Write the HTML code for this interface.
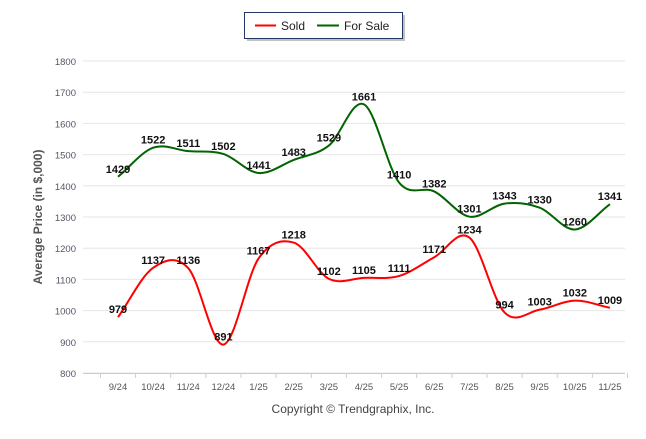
<!DOCTYPE html>
<html><head><meta charset="utf-8"><style>
body{margin:0;background:#fff;width:646px;height:434px;overflow:hidden;font-family:"Liberation Sans",sans-serif}
</style></head><body>
<svg id="c" width="646" height="434" xmlns="http://www.w3.org/2000/svg"></svg>
<script>
const categories=["9/24","10/24","11/24","12/24","1/25","2/25","3/25","4/25","5/25","6/25","7/25","8/25","9/25","10/25","11/25"];
const soldValues=[979,1137,1136,891,1167,1218,1102,1105,1111,1171,1234,994,1003,1032,1009];
const forSaleValues=[1429,1522,1511,1502,1441,1483,1529,1661,1410,1382,1301,1343,1330,1260,1341];
const yTicks=[800,900,1000,1100,1200,1300,1400,1500,1600,1700,1800];
const NS="http://www.w3.org/2000/svg";
const svg=document.getElementById('c');
function el(t,a,p){const e=document.createElementNS(NS,t);for(const k in a)e.setAttribute(k,a[k]);(p||svg).appendChild(e);return e;}
const x0=118,dx=35.14;
const xs=i=>x0+i*dx;
const ys=v=>373-(v-800)*0.312;
yTicks.forEach(v=>{
 const g=el('line',{x1:83,x2:625,y1:ys(v),y2:ys(v),stroke:'#e6e6e6','stroke-width':1});
 
 const t=el('text',{x:76,y:ys(v)+4,'text-anchor':'end','font-size':9.5,fill:'#556'});t.textContent=v;
 
});
el('line',{x1:83,x2:625,y1:373.5,y2:373.5,stroke:'#ccc'});
for(let i=0;i<=categories.length;i++){el('line',{x1:xs(i)-dx/2,x2:xs(i)-dx/2,y1:373,y2:378,stroke:'#ccc'});}
categories.forEach((c,i)=>{
 const t=el('text',{x:xs(i),y:390,'text-anchor':'middle','font-size':9.5,fill:'#555'});t.textContent=c;
 
});
const yt=el('text',{x:0,y:0,transform:'translate(42,217) rotate(-90)','text-anchor':'middle','font-size':12,'font-weight':'bold',fill:'#555'});
yt.textContent='Average Price (in $,000)';

const cp=el('text',{x:353,y:413,'text-anchor':'middle','font-size':12,fill:'#444'});
cp.textContent='Copyright © Trendgraphix, Inc.';

function path(vals){
 const p=vals.map((v,i)=>[xs(i),ys(v)]);
 let d='M'+p[0][0]+','+p[0][1];
 for(let i=0;i<p.length-1;i++){
  const a=p[i-1]||p[i],b=p[i],c=p[i+1],e=p[i+2]||c;
  const s1=(c[1]-a[1])/(c[0]-a[0]),s2=(e[1]-b[1])/(e[0]-b[0]);
  const h=(c[0]-b[0])/3;
  d+=` C${b[0]+h},${b[1]+s1*h} ${c[0]-h},${c[1]-s2*h} ${c[0]},${c[1]}`;
 }
 return d;
}
function series(vals,color,name){
 const g=el('path',{d:path(vals),fill:'none',stroke:color,'stroke-width':2});
 
 vals.forEach((v,i)=>{
  const t=el('text',{x:xs(i),y:ys(v)-4,'text-anchor':'middle','font-size':11,'font-weight':'bold',fill:'#111'});t.textContent=v;
  
 });
}
series(forSaleValues,'#006400','for-sale');
series(soldValues,'#ff0000','sold');
const lg=el('g',{});

el('rect',{x:247,y:15,width:158,height:26,fill:'#999',opacity:0.6},lg);
el('rect',{x:244.5,y:12.5,width:158,height:26,fill:'#fff',stroke:'#1f3864','stroke-width':1},lg);
el('line',{x1:255,x2:276,y1:25.5,y2:25.5,stroke:'#ff0000','stroke-width':2},lg);
let t=el('text',{x:281,y:30,'font-size':12,fill:'#222'},lg);t.textContent='Sold';

el('line',{x1:317,x2:339,y1:25.5,y2:25.5,stroke:'#006400','stroke-width':2},lg);
t=el('text',{x:344,y:30,'font-size':12,fill:'#222'},lg);t.textContent='For Sale';

</script>
</body></html>
